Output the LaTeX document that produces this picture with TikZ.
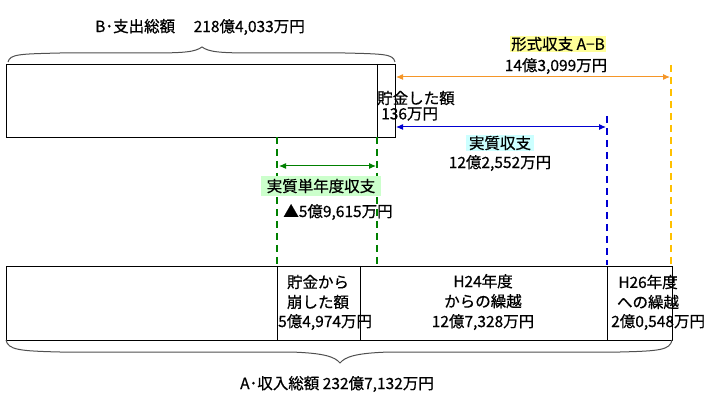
\documentclass[tikz,border=0pt]{standalone}
\usepackage{fontspec}
\setmainfont{Noto Sans CJK JP}[FakeBold=0.6]
\usetikzlibrary{arrows.meta}
\definecolor{orgA}{RGB}{245,150,40}
\definecolor{orgD}{RGB}{255,192,0}
\definecolor{bluA}{RGB}{0,0,210}
\definecolor{grnA}{RGB}{0,128,0}
\definecolor{hlY}{RGB}{255,255,153}
\definecolor{hlC}{RGB}{204,255,255}
\definecolor{hlG}{RGB}{204,255,204}
\definecolor{brc}{RGB}{80,80,80}
\tikzset{
  box/.style={draw=black, line width=0.8pt},
  lbl/.style={inner sep=1pt, font=\fontsize{15.5}{17}\selectfont},
  cell/.style={inner sep=0pt, font=\fontsize{15.5}{20}\selectfont, align=center},
  dim/.style={line width=1pt, {Latex[length=7pt,width=6pt]}-{Latex[length=7pt,width=6pt]}},
  vdash/.style={line width=2pt, dash pattern=on 7pt off 5pt},
  brace/.style={draw=brc, line width=1pt},
}
\begin{document}
\begin{tikzpicture}[x=1pt,y=-1pt]
\useasboundingbox (0,0) rectangle (719,411);
\fill[white] (0,0) rectangle (719,411);
% top box
\draw[box] (6,64) rectangle (395,137);
\draw[box] (377,64) -- (377,137);
% bottom box
\draw[box] (6,266) rectangle (672,340);
\draw[box] (277,266) -- (277,340);
\draw[box] (360,266) -- (360,340);
\draw[box] (607,266) -- (607,340);
% coordinates
\coordinate (oT) at (671,65);
\coordinate (oB) at (671,265);
\coordinate (bT) at (607,116);
\coordinate (bB) at (607,265);
\coordinate (g1T) at (277,137);
\coordinate (g1B) at (277,265);
\coordinate (g2T) at (377,137);
\coordinate (g2B) at (377,265);
\coordinate (oL) at (396,77);
\coordinate (oR) at (670,77);
\coordinate (bL) at (396,127);
\coordinate (bR) at (606,127);
\coordinate (gL) at (279,166);
\coordinate (gR) at (376,166);
% dashed verticals
\draw[vdash, orgD] (oT) -- (oB);
\draw[vdash, bluA] (bT) -- (bB);
\draw[vdash, grnA] (g1T) -- (g1B);
\draw[vdash, grnA] (g2T) -- (g2B);
% arrows
\draw[dim, orgA] (oL) -- (oR);
\draw[dim, bluA] (bL) -- (bR);
\draw[dim, grnA] (gR) -- (gL);
% braces
\draw[brace] (8,62) .. controls (10,54) and (20,54) .. (60,53) -- (150,53) .. controls (185,53) and (195,52) .. (202,47) .. controls (209,52) and (219,53) .. (254,53) -- (345,53) .. controls (385,54) and (393,54) .. (395,62);
\draw[brace] (6,340) .. controls (8,350) and (20,351) .. (60,352) -- (290,352) .. controls (325,353) and (335,357) .. (340,363) .. controls (345,357) and (355,353) .. (390,352) -- (620,352) .. controls (660,351) and (670,350) .. (672,340);
% labels
\node[lbl] (btot) at (200,27) {B･支出総額\hspace{1.2em}218億4,033万円};
\node[lbl, fill=hlY] (keishiki) at (558,44) {形式収支 A−B};
\node[lbl] (kv) at (556,66) {14億3,099万円};
\node[lbl, anchor=west] (chokin) at (376,98) {貯金した額};
\node[lbl, anchor=west] (chokinv) at (380,114) {136万円};
\node[lbl, fill=hlC, inner xsep=3pt] (jisshitsu) at (500,143) {実質収支};
\node[lbl] (jv) at (500,163) {12億2,552万円};
\node[lbl, fill=hlG, inner xsep=6pt, inner ysep=3pt] (tannen) at (321,186) {実質単年度収支};
\node[lbl] (tv) at (338,212) {▲5億9,615万円};
\node[cell] (c1) at (318,292) {貯金から\\崩した額};
\node[cell, anchor=west] (c1v) at (278,322) {5億4,974万円};
\node[cell] (c2) at (483,302) {H24年度\\からの繰越\\12億7,328万円};
\node[cell] (c3) at (648,292) {H26年度\\への繰越};
\node[cell, anchor=west] (c3v) at (611,322) {2億0,548万円};
\node[lbl] (atot) at (337,384) {A･収入総額 232億7,132万円};
\end{tikzpicture}
\end{document}
